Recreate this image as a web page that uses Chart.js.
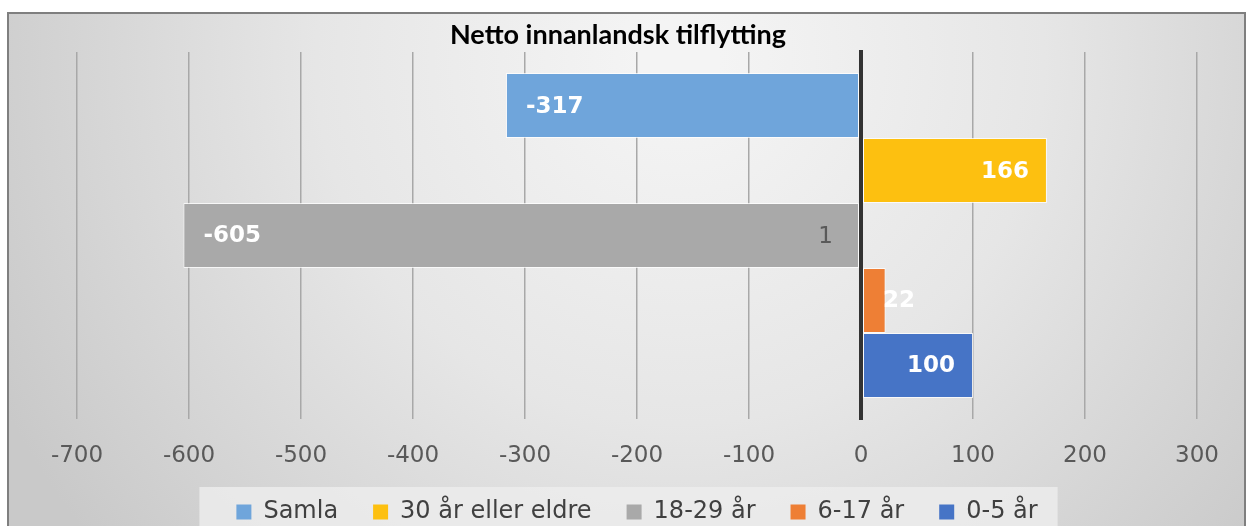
<!doctype html>
<html lang="nn">

<head>
  <meta charset="utf-8">
  <title>Netto innanlandsk tilflytting</title>
  <style>
    * {
      margin: 0;
      padding: 0;
    }

    body {
      background: #fff;
      width: 1250px;
      height: 526px;
      overflow: hidden;
    }
  </style>
</head>

<body>
  <canvas id="myChart" width="1250" height="526"></canvas>
  <script src="https://cdn.jsdelivr.net/npm/chart.js/dist/chart.umd.min.js"></script>
  <script>

    // data
    const categories = ['1'];
    const seriesNames = ['Samla', '30 år eller eldre', '18-29 år', '6-17 år', '0-5 år'];
    const seriesValues = [-317, 166, -605, 22, 100];
    const seriesColors = ['#6fa5db', '#fdc010', '#a9a9a9', '#ee7f35', '#4674c6'];
    const xMin = -700;
    const xMax = 300;
    const xStep = 100;
    const chartTitle = 'Netto innanlandsk tilflytting';

    const datasets = seriesNames.map((name, i) => ({
      label: name,
      data: [seriesValues[i]],
      backgroundColor: seriesColors[i],
      borderColor: 'rgba(255, 255, 255, 0.75)',
      borderWidth: 1,
      borderSkipped: false
    }));

    // grey frame with soft gradient + legend panel + title
    const frame = {
      id: 'frame',
      beforeDraw(chart) {
        const { ctx, width, height } = chart;
        ctx.save();
        ctx.fillStyle = '#fff';
        ctx.fillRect(0, 0, width, height);

        const g = ctx.createRadialGradient(680, 60, 40, 680, 60, 760);
        g.addColorStop(0, '#f4f4f4');
        g.addColorStop(0.45, '#e6e6e6');
        g.addColorStop(1, '#c9c9c9');
        ctx.fillStyle = g;
        ctx.fillRect(8, 13, 1237, height);

        ctx.strokeStyle = '#7f7f7f';
        ctx.lineWidth = 2;
        ctx.strokeRect(8, 13, 1237, height + 10);

        // legend panel
        const boxes = chart.legend && chart.legend.legendHitBoxes;
        if (boxes && boxes.length) {
          const first = boxes[0];
          const last = boxes[boxes.length - 1];
          const left = first.left - 37;
          const right = last.left + last.width + 20;
          ctx.fillStyle = 'rgba(236, 236, 236, 0.85)';
          ctx.fillRect(left, 487, right - left, height - 487);
        }
        ctx.restore();
      },
      afterDraw(chart) {
        const { ctx } = chart;
        ctx.save();
        ctx.beginPath();
        ctx.rect(0, 0, chart.width, 51);
        ctx.clip();
        ctx.font = 'bold 27px Lato';
        ctx.fillStyle = '#000';
        ctx.textAlign = 'center';
        ctx.textBaseline = 'alphabetic';
        ctx.fillText(chartTitle, 618, 44);
        ctx.restore();
      }
    };

    // value labels at the inside end of each bar, category label beside the zero axis
    const barLabels = {
      id: 'barLabels',
      afterDatasetsDraw(chart) {
        const { ctx, scales } = chart;
        ctx.save();
        ctx.font = 'bold 23px "DejaVu Sans"';
        ctx.fillStyle = '#fff';
        ctx.textAlign = 'left';
        ctx.textBaseline = 'middle';
        chart.data.datasets.forEach((ds, i) => {
          const bar = chart.getDatasetMeta(i).data[0];
          const val = ds.data[0];
          const text = String(val);
          const w = ctx.measureText(text).width;
          let left;
          if (val >= 0) {
            left = bar.x - 18 - w;
            if (left < bar.base + 20) left = bar.base + 20;
          } else {
            left = bar.x + 20;
          }
          ctx.fillText(text, left, bar.y + 1);
        });

        ctx.font = '23px "DejaVu Sans"';
        ctx.fillStyle = '#595959';
        ctx.textAlign = 'right';
        categories.forEach((c, i) => {
          ctx.fillText(c, scales.x.getPixelForValue(0) - 28, scales.y.getPixelForValue(i) + 2);
        });
        ctx.restore();
      }
    };

    const config = {
      type: 'bar',
      data: {
        labels: categories,
        datasets
      },
      options: {
        indexAxis: 'y',
        responsive: false,
        devicePixelRatio: 1,
        animation: false,
        datasets: {
          bar: {
            categoryPercentage: 0.885,
            barPercentage: 1
          }
        },
        layout: {
          padding: { left: 77, right: 53, top: 52, bottom: -8 }
        },
        scales: {
          x: {
            type: 'linear',
            position: 'bottom',
            min: xMin,
            max: xMax,
            ticks: {
              stepSize: xStep,
              color: '#595959',
              padding: 23,
              font: { family: '"DejaVu Sans"', size: 23 }
            },
            grid: {
              drawTicks: false,
              color: ctx => ctx.tick && ctx.tick.value === 0 ? '#333' : '#a8a8a8',
              lineWidth: ctx => ctx.tick && ctx.tick.value === 0 ? 4 : 1.5
            },
            border: { display: false },
            afterFit(scale) { scale.height = 46; }
          },
          y: {
            type: 'category',
            position: { x: 0 },
            offset: true,
            grid: { display: false, drawTicks: false },
            border: { display: true, color: '#333', width: 4 },
            ticks: { display: false },
            afterFit(scale) { scale.width = 0; }
          }
        },
        plugins: {
          title: { display: false },
          tooltip: { enabled: false },
          legend: {
            display: true,
            position: 'bottom',
            labels: {
              color: '#404040',
              boxWidth: 15,
              boxHeight: 15,
              padding: 35,
              font: { family: '"DejaVu Sans"', size: 24 },
              generateLabels(chart) {
                return Chart.defaults.plugins.legend.labels.generateLabels(chart)
                  .map(item => Object.assign(item, { lineWidth: 0 }));
              }
            }
          }
        }
      },
      plugins: [frame, barLabels]
    };

    const myChart = new Chart(document.getElementById('myChart'), config);
  </script>

</body>

</html>
